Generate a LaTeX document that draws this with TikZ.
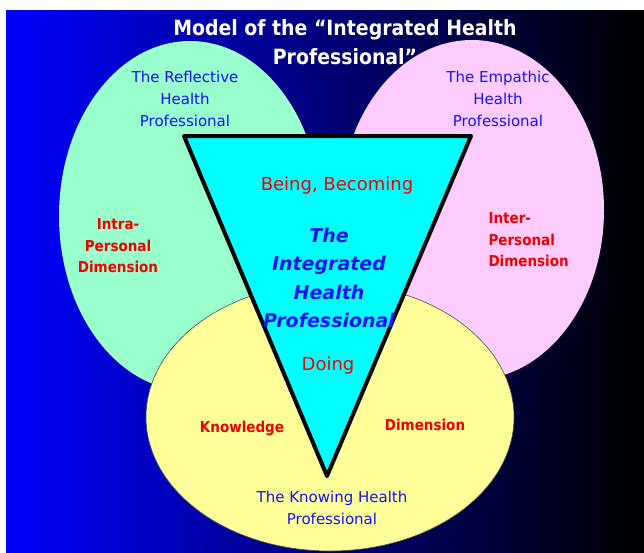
\documentclass[tikz,border=0pt]{standalone}
\usepackage{fontspec}
\setmainfont{DejaVu Sans}
\newfontfamily\condfont{DejaVu Sans Condensed}
\usetikzlibrary{positioning}

\definecolor{mintfill}{RGB}{153,255,204}
\definecolor{pinkfill}{RGB}{255,204,255}
\definecolor{lemonfill}{RGB}{255,255,153}
\definecolor{corefill}{RGB}{0,255,255}
\definecolor{labelred}{RGB}{240,0,0}
\definecolor{labelblue}{RGB}{20,20,240}

\begin{document}
\begin{tikzpicture}[x=1pt,y=-1pt,
  titletext/.style={text=white, align=center, font=\condfont\bfseries\fontsize{21}{29}\selectfont},
  bluetext/.style={text=labelblue, align=center, font=\fontsize{15}{22}\selectfont},
  redbold/.style={text=labelred, font=\condfont\bfseries\fontsize{15}{21.5}\selectfont},
  redplain/.style={text=labelred, font=\fontsize{18}{22}\selectfont},
  coretext/.style={text=labelblue, align=center, font=\bfseries\itshape\fontsize{19}{28.5}\selectfont}]
\useasboundingbox (0,0) rectangle (644,552);
\fill[white] (0,0) rectangle (644,552);
\shade[left color=blue, right color=black, middle color={rgb,255:red,0;green,0;blue,120}] (6,10) rectangle (644,552);

% the three fields
\fill[mintfill] (190,216) ellipse [x radius=131, y radius=175];
\fill[pinkfill] (472,210) ellipse [x radius=132, y radius=170];
\draw[fill=lemonfill, draw=black!70, line width=0.6pt] (330,417) ellipse [x radius=184, y radius=134];

% the core
\draw[line width=4pt, line join=round, fill=corefill] (184,136) -- (471,136) -- (327,476) -- cycle;

\node[titletext] (title) at (345,42) {Model of the “Integrated Health\\Professional”};

\node[bluetext] (reflective) at (185,99) {The Reflective\\Health\\Professional};
\node[bluetext] (empathic) at (498,99) {The Empathic\\Health\\Professional};
\node[bluetext] (knowing) at (332,508) {The Knowing Health\\Professional};

\node[redbold, align=center] (intra) at (118,246) {Intra-\\Personal\\Dimension};
\node[redbold, align=left, anchor=west] (inter) at (485,240) {Inter-\\Personal\\Dimension};
\node[redbold] (knowledge) at (242,428) {Knowledge};
\node[redbold] (dimension) at (425,425) {Dimension};

\node[redplain] (being) at (337,186) {Being, Becoming};
\node[coretext] (core) at (329,278) {The\\Integrated\\Health\\Professional};
\node[redplain] (doing) at (328,366) {Doing};
\end{tikzpicture}
\end{document}
